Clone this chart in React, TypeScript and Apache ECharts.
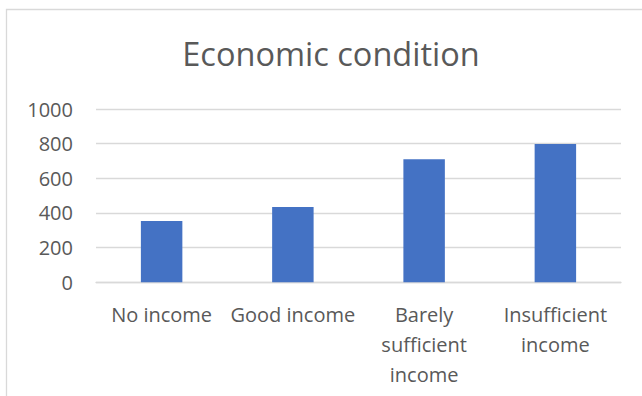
import React, { useEffect, useRef } from "react";
import * as echarts from "echarts";

const categories = [
  "No income",
  "Good income",
  "Barely\nsufficient\nincome",
  "Insufficient\nincome",
];
const counts = [354, 434, 710, 798];
const yTicks = { min: 0, max: 1000, interval: 200 };
const chartTitle = "Economic condition";

const TEXT = "#595959";
const GRID_LINE = "#d9d9d9";
const BAR = "#4472C4";
const FONT = "'Open Sans', 'Noto Sans', sans-serif";

export default function App() {
  const ref = useRef<HTMLDivElement>(null);

  useEffect(() => {
    if (!ref.current) return;
    const chart = echarts.init(ref.current, undefined, { renderer: "svg" });
    chart.setOption({
      animation: false,
      backgroundColor: "#ffffff",
      textStyle: { fontFamily: FONT },
      title: {
        text: chartTitle,
        left: 326,
        top: 32,
        textAlign: "center",
        textStyle: {
          fontFamily: FONT,
          fontSize: 32.5,
          fontWeight: "normal",
          color: TEXT,
        },
      },
      graphic: [
        {
          type: "rect",
          shape: { x: 6.5, y: 9.5, width: 680, height: 420 },
          style: { fill: "none", stroke: GRID_LINE, lineWidth: 1.3 },
          silent: true,
          z: -1,
        },
      ],
      grid: { left: 96, right: 21, top: 109, bottom: 113.7, containLabel: false },
      xAxis: {
        type: "category",
        data: categories,
        axisTick: { show: false },
        axisLine: { lineStyle: { color: GRID_LINE, width: 1.3 } },
        axisLabel: {
          interval: 0,
          color: TEXT,
          fontFamily: FONT,
          fontSize: 20,
          lineHeight: 30,
          margin: 17,
          align: "center",
        },
      },
      yAxis: {
        type: "value",
        min: yTicks.min,
        max: yTicks.max,
        interval: yTicks.interval,
        axisLine: { show: false },
        axisTick: { show: false },
        splitLine: { lineStyle: { color: GRID_LINE, width: 1.3 } },
        axisLabel: {
          color: TEXT,
          fontFamily: FONT,
          fontSize: 20,
          margin: 23,
          formatter: (v: number) => String(v),
        },
      },
      series: [
        {
          type: "bar",
          data: counts,
          barWidth: "31.6%",
          itemStyle: { color: BAR },
        },
      ],
    });
    return () => chart.dispose();
  }, []);

  return (
    <div
      ref={ref}
      style={{ position: "fixed", left: 0, top: 0, width: 642, height: 396 }}
    />
  );
}
